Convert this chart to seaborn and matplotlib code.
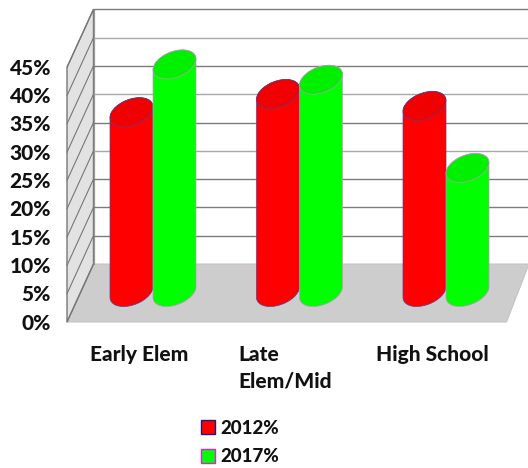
import numpy as np
import pandas as pd
import matplotlib
matplotlib.use("Agg")
import matplotlib.pyplot as plt
from matplotlib.patches import Circle, Polygon, Patch
from matplotlib.path import Path
from matplotlib.lines import Line2D
from matplotlib.transforms import Affine2D, IdentityTransform
import seaborn as sns

# Survey shares by school level
levels = ["Early Elem", "Late\nElem/Mid", "High School"]
share_2012 = [31.6, 34.8, 32.7]
share_2017 = [40.0, 37.3, 21.8]
series_names = ["2012%", "2017%"]
tick_values = [0, 5, 10, 15, 20, 25, 30, 35, 40, 45]

fills = ["#ff0000", "#00ff00"]
caps = ["#f00000", "#00f000"]
edges = ["#50409a", "#c890cc"]

W, H = 528, 468
TEXT_WEIGHT = 900
sns.set_theme(style="white")
plt.rcParams["font.family"] = ["Lato", "DejaVu Sans"]

frame = pd.DataFrame({
    "level": levels * 2,
    "share": share_2012 + share_2017,
    "year": [series_names[0]] * 3 + [series_names[1]] * 3,
})

fig = plt.figure(figsize=(W / 100, H / 100), dpi=100)
ax = fig.add_axes([0, 0, 1, 1])
sns.barplot(data=frame, x="level", y="share", hue="year", hue_order=series_names,
            palette=fills, width=0.587, gap=0, saturation=1, legend=False,
            linewidth=0, ax=ax)

# Full-canvas axes: one category is 146.5 px wide, one percent is 5.69 px tall
group0_px, group_step, base_px, px_per_pct = 153.0, 146.5, 292.0, 5.69
ax.set_xlim(-group0_px / group_step, (W - group0_px) / group_step)
ax.set_ylim((base_px - H) / px_per_pct, base_px / px_per_pct)
ax.axis("off")

# Frame and labels are laid out in pixels measured from the top-left corner
pix = Affine2D().scale(1, -1).translate(0, H)
x_front, x_back, x_right_back, x_right_front = 67, 93.5, 529, 506.5
y_front0, y_back0, step = 322, 264, 28.3

ax.add_patch(Polygon([(x_front, y_front0), (x_back, y_back0), (x_right_back, y_back0),
                      (x_right_front, y_front0)], closed=True, transform=pix,
                     facecolor="#cdcdcd", edgecolor="#c4c4c4", lw=0.8, zorder=1))
top_front = y_front0 - 9 * step
top_back = y_back0 - 9 * step
ax.add_patch(Polygon([(x_front, y_front0), (x_back, y_back0), (x_back, top_back),
                      (x_front, top_front)], closed=True, transform=pix,
                     facecolor="#e2e2e2", edgecolor="#777777", lw=1.0, zorder=1))
ax.add_line(Line2D([x_back, x_back], [y_back0, top_back], transform=pix,
                   color="#999999", lw=0.9, zorder=1.5))

for i, v in enumerate(tick_values):
    y_f = y_front0 - i * step
    y_b = y_back0 - i * step
    shade = "#a8a8a8" if i in (0, 4, 6, 8) else "#7c7c7c"
    if i > 0:
        ax.add_line(Line2D([x_back, x_right_back], [y_b, y_b], transform=pix,
                           color=shade, lw=1.0, zorder=1.5))
    ax.add_line(Line2D([x_front, x_back], [y_f, y_b], transform=pix,
                       color="#777777", lw=0.8, zorder=1.5))
    ax.text(51, y_f + 1, f"{v}%", transform=pix, ha="right", va="center",
            fontsize=15, fontweight=TEXT_WEIGHT, color="#111111")

label_left = [90, 238, 376.5]
for x, text in zip(label_left, levels):
    ax.text(x, 345, text, transform=pix, ha="left", va="top", fontsize=15,
            fontweight=TEXT_WEIGHT, color="#111111", linespacing=1.48)

# Each bar is turned into a sheared cylinder with an elliptical base and cap
shear, rise = 8.0, 14.5
t = np.linspace(0, 2 * np.pi, 121)


def ring(cx, cy, a):
    return np.column_stack([cx + a * np.cos(t) + shear * np.sin(t), cy + rise * np.sin(t)])


for j, container in enumerate(ax.containers):
    for i, bar in enumerate(container.patches):
        z = 3 + 3 * i + j
        x0, x1 = bar.get_x(), bar.get_x() + bar.get_width()
        (l, b), (r, top) = ax.transData.transform([(x0, 0), (x1, bar.get_height())])
        cx = (l + r) / 2
        half = (r - l) / 2
        a = np.sqrt(half ** 2 - shear ** 2)

        # outline of the whole solid, used to trim the bar and to draw its sides
        lower = ring(cx, b, a)
        upper = ring(cx, top, a)
        k_right = np.argmax(lower[:, 0])
        k_left = np.argmin(lower[:, 0])
        under = lower[np.r_[k_left:121, 1:k_right + 1]]
        over = upper[k_right:k_left + 1]
        outline = np.vstack([under, over])

        bar.set_zorder(z)
        bar.set_clip_path(Path(outline, closed=False), IdentityTransform())
        ax.add_patch(Polygon(outline, closed=True, transform=IdentityTransform(),
                             facecolor=fills[j], edgecolor=edges[j], lw=0.5, zorder=z + 0.1))
        cap = Affine2D(np.array([[a, shear, cx], [0, rise, top], [0, 0, 1]], dtype=float))
        ax.add_patch(Circle((0, 0), 1, transform=cap, facecolor=caps[j],
                            edgecolor=edges[j], lw=0.5, zorder=z + 0.2))

handles = [Patch(facecolor=fills[k], edgecolor=["#1a1a80", "#e020e0"][k], lw=1.0) for k in range(2)]
ax.legend(handles, series_names, loc="upper left", bbox_to_anchor=(197 / W, 1 - 416 / H),
          bbox_transform=fig.transFigure, frameon=False,
          prop={"family": "Lato", "weight": TEXT_WEIGHT, "size": 13.5}, handlelength=0.75,
          handleheight=0.75, handletextpad=0.3, labelspacing=0.62, borderpad=0.2,
          borderaxespad=0, labelcolor="#111111")

fig.savefig("out.png", dpi=100)
